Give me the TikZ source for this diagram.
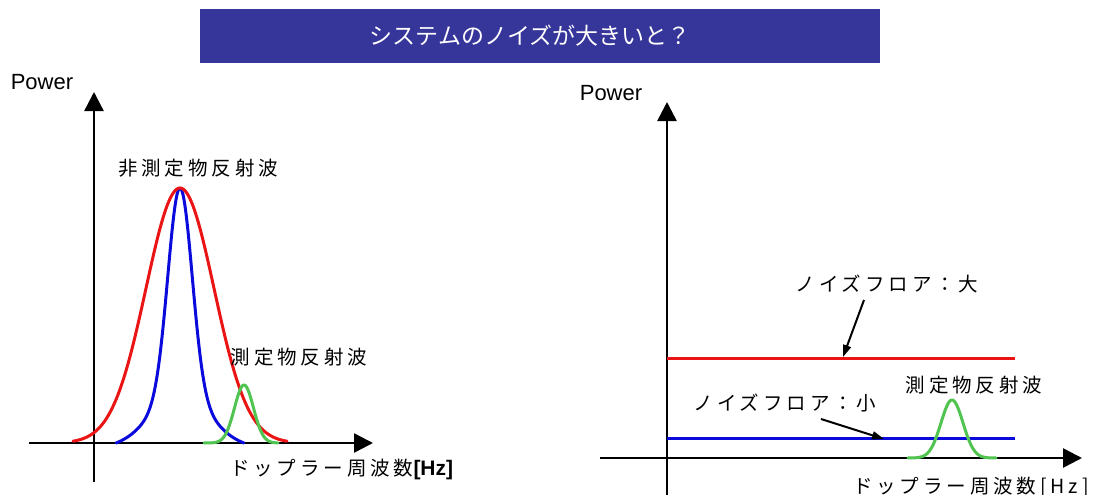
\documentclass[tikz,border=0pt]{standalone}
\usepackage{fontspec}
\setmainfont{Liberation Sans}
\newfontfamily\jp[LetterSpace=20]{Noto Sans CJK JP}
\newfontfamily\jpt{Noto Sans CJK JP}
\usetikzlibrary{arrows.meta}
\definecolor{titlebg}{RGB}{53,53,154}
\definecolor{cred}{RGB}{235,20,20}
\definecolor{cblue}{RGB}{10,10,220}
\definecolor{cgreen}{RGB}{80,195,80}
\begin{document}
\begin{tikzpicture}[x=1pt,y=-1pt,
  axis/.style={line width=2.5pt,-{Triangle[width=19pt,length=19pt]}},
  curve/.style={line width=3pt,line join=round,line cap=round},
  flat/.style={line width=3pt},
  jplabel/.style={font=\jp\fontsize{19.5pt}{19.5pt}\selectfont,inner sep=0pt},
  powerlabel/.style={font=\fontsize{22pt}{22pt}\selectfont,inner sep=0pt},
  pointer/.style={line width=2pt,-{Triangle[width=8pt,length=12pt]}}]
\useasboundingbox (0,0) rectangle (1093,495);
% title
\coordinate (titlepos) at (540,36);
\node[fill=titlebg,minimum width=680pt,minimum height=54pt,inner sep=0pt] (title) at (titlepos) {};
\node[text=white,inner sep=0pt,font=\jpt\fontsize{23pt}{23pt}\selectfont] (titletext) at (530,36) {システムのノイズが大きいと？};
% ---------- left panel ----------
\coordinate (LyB) at (94,482);
\coordinate (LyT) at (94,92);
\coordinate (LxL) at (29,443);
\coordinate (LxR) at (373,443);
\draw[axis] (LyB) -- (LyT);
\draw[axis] (LxL) -- (LxR);
\node[powerlabel] (powerL) at (42,82) {Power};
\draw[curve,cblue] plot[domain=-64:64,samples=129,smooth]
  ({180+\x},{443-255*(0.8*exp(-(\x)^2/288)+0.2*exp(-(\x)^2/1800)-0.0205)/0.9795});
\draw[curve,cred] plot[domain=-107:107,samples=129,smooth]
  ({180+\x},{443-255*exp(-(\x)^2/2312)});
\draw[curve,cgreen] plot[domain=-40:34,samples=75,smooth]
  ({244+\x},{443-58*exp(-(\x)^2/180)});
\node[jplabel] (clutterL) at (198,168) {非測定物反射波};
\node[jplabel] (targetL) at (299,357) {測定物反射波};
\node[jplabel,anchor=west] (xlabL) at (230,469)
  {ドップラー周波数{\rmfamily\bfseries\fontsize{21pt}{21pt}\selectfont[Hz]}};
% ---------- right panel ----------
\coordinate (RyB) at (667,495);
\coordinate (RyT) at (667,102);
\coordinate (RxL) at (600,458);
\coordinate (RxR) at (1082,458);
\draw[axis] (RyB) -- (RyT);
\draw[axis] (RxL) -- (RxR);
\node[powerlabel] (powerR) at (611,93) {Power};
\coordinate (redA) at (667,358);
\coordinate (redB) at (1015,358);
\coordinate (blueA) at (667,438);
\coordinate (blueB) at (1015,438);
\draw[flat,cred] (redA) -- (redB);
\draw[flat,cblue] (blueA) -- (blueB);
\draw[curve,cgreen] plot[domain=-44:44,samples=89,smooth]
  ({952+\x},{458-58*exp(-(\x)^2/242)});
\node[jplabel] (noiseBig) at (887,284) {ノイズフロア：大};
\node[jplabel] (targetR) at (974,385) {測定物反射波};
\node[jplabel] (noiseSmall) at (785,403) {ノイズフロア：小};
\coordinate (p1s) at (864,300);
\coordinate (p1e) at (843,357);
\coordinate (p2s) at (821,419);
\coordinate (p2e) at (884,439);
\draw[pointer] (p1s) -- (p1e);
\draw[pointer] (p2s) -- (p2e);
\node[jplabel,anchor=west] (xlabR) at (853,487) {ドップラー周波数[Hz]};
\end{tikzpicture}
\end{document}
